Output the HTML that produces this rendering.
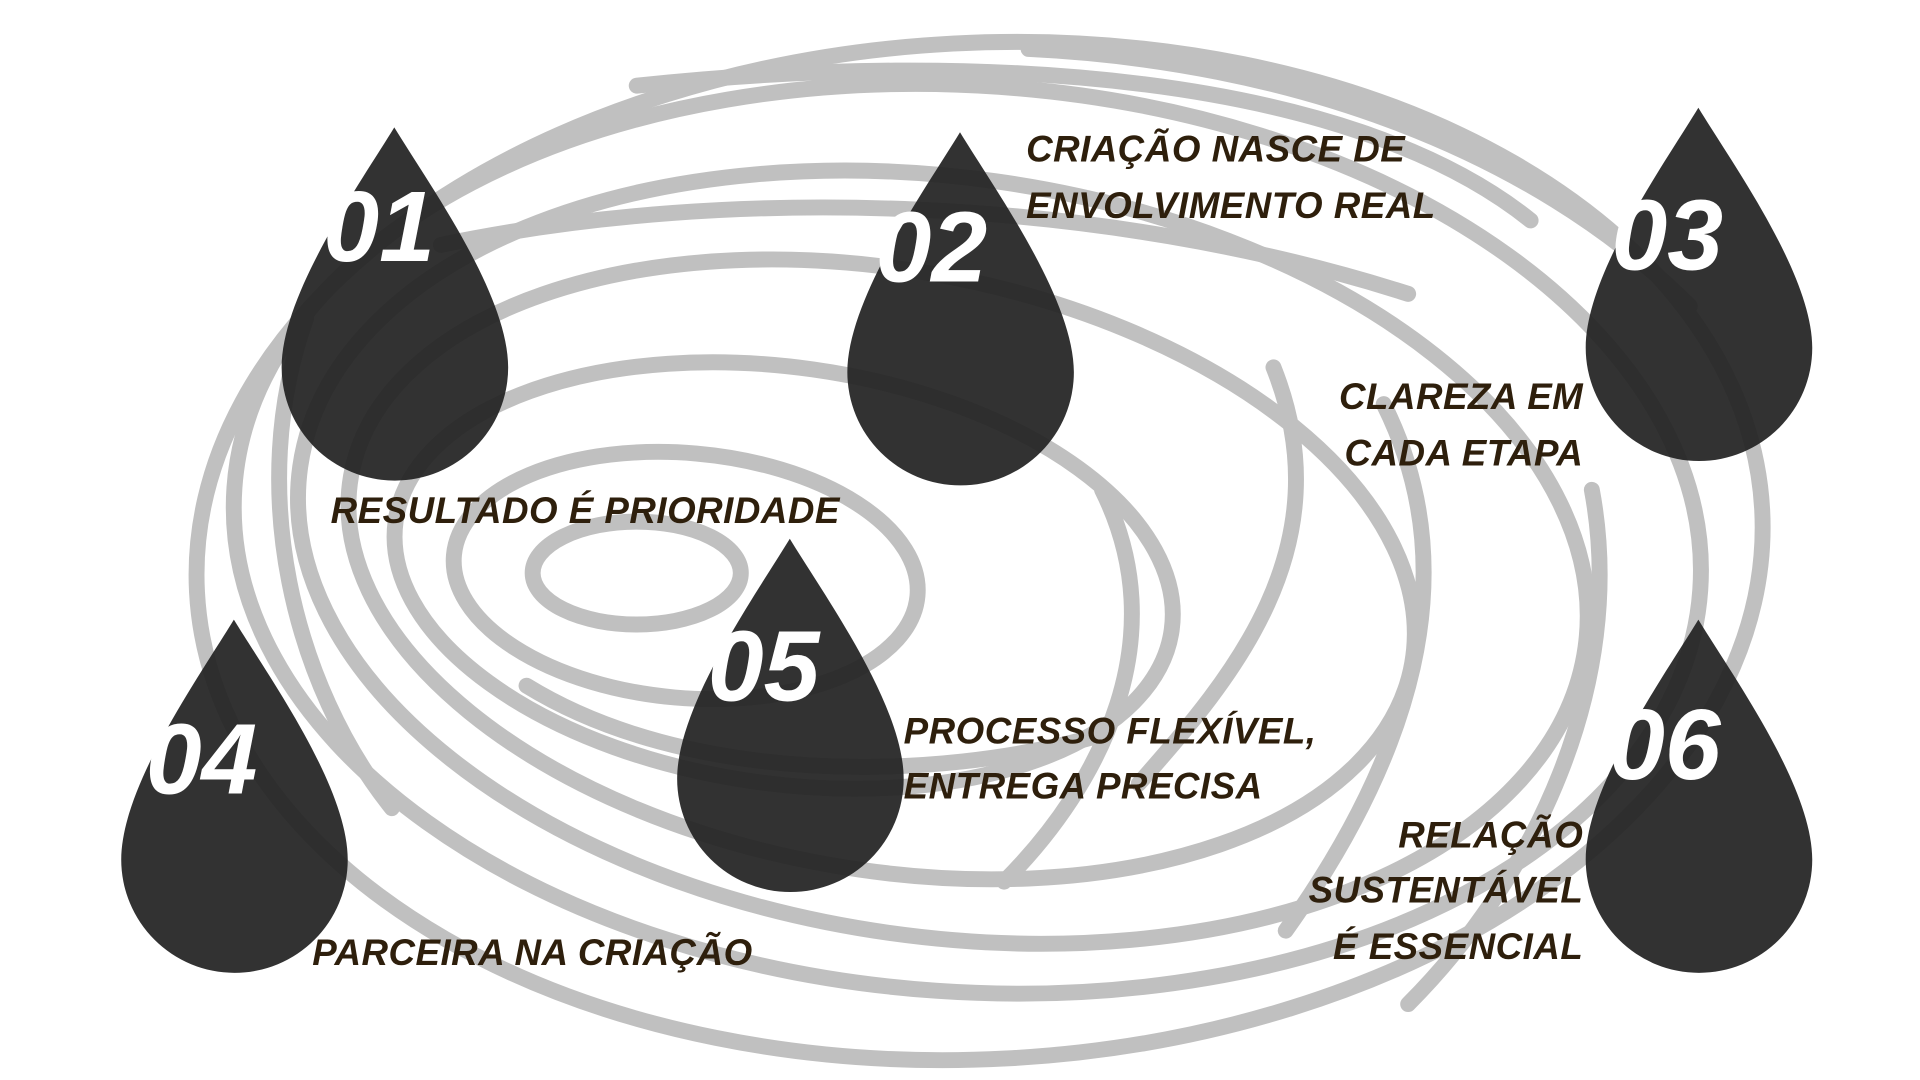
<!DOCTYPE html>
<html><head><meta charset="utf-8"><style>
html,body{margin:0;padding:0;background:#fff;width:1920px;height:1080px;overflow:hidden}
svg{display:block}
.n{font-family:"Liberation Sans",sans-serif;font-weight:bold;font-style:italic;font-size:82px;fill:#fff}
.t{font-family:"Liberation Sans",sans-serif;font-weight:bold;font-style:italic;font-size:30px;letter-spacing:0.4px;fill:#2e1f0c}
</style></head><body>
<svg width="1920" height="1080" viewBox="0 0 1568 882" xmlns="http://www.w3.org/2000/svg">
<g fill="none" stroke="#c0c0c0" stroke-width="13" stroke-linecap="round">
<ellipse cx="800" cy="450" rx="640" ry="415" transform="rotate(-3 800 450)"/>
<ellipse cx="790" cy="440" rx="600" ry="370" transform="rotate(4 790 440)"/>
<ellipse cx="770" cy="455" rx="530" ry="310" transform="rotate(8 770 455)"/>
<ellipse cx="720" cy="465" rx="440" ry="245" transform="rotate(10 720 465)"/>
<ellipse cx="640" cy="470" rx="320" ry="170" transform="rotate(8 640 470)"/>
<ellipse cx="560" cy="470" rx="190" ry="100" transform="rotate(5 560 470)"/>
<ellipse cx="520" cy="468" rx="85" ry="42"/>
<path d="M520 70 C 800 40 1100 60 1250 180"/>
<path d="M840 40 C 1050 50 1250 120 1380 250"/>
<path d="M360 200 C 600 150 900 160 1150 240"/>
<path d="M1040 300 C 1100 450 1000 560 930 640"/>
<path d="M1130 330 C 1200 470 1150 620 1050 760"/>
<path d="M900 400 C 960 520 900 640 820 720"/>
<path d="M1300 400 C 1330 560 1250 720 1150 820"/>
<path d="M250 260 C 200 400 240 560 320 660"/>
<path d="M430 560 C 560 640 760 640 900 600"/>
</g>
<g fill="#222" fill-opacity="0.93">
<path d="M322 104 C 350 150 415 240 415 300 A 92.5 92.5 0 0 1 230 300 C 230 240 294 150 322 104 Z"/>
<path d="M784 108 C 812 154 877 244 877 304 A 92.5 92.5 0 0 1 692 304 C 692 244 756 154 784 108 Z"/>
<path d="M1387 88 C 1415 134 1480 224 1480 284 A 92.5 92.5 0 0 1 1295 284 C 1295 224 1359 134 1387 88 Z"/>
<path d="M191 506 C 219 552 284 642 284 702 A 92.5 92.5 0 0 1 99 702 C 99 642 163 552 191 506 Z"/>
<path d="M645 440 C 673 486 738 576 738 636 A 92.5 92.5 0 0 1 553 636 C 553 576 617 486 645 440 Z"/>
<path d="M1387 506 C 1415 552 1480 642 1480 702 A 92.5 92.5 0 0 1 1295 702 C 1295 642 1359 552 1387 506 Z"/>
</g>
<text class="n" x="264" y="213">01</text>
<text class="n" x="715" y="230">02</text>
<text class="n" x="1316" y="220">03</text>
<text class="n" x="119" y="648">04</text>
<text class="n" x="578" y="572">05</text>
<text class="n" x="1314" y="636">06</text>
<text class="t" x="838" y="132">CRIAÇÃO NASCE DE</text>
<text class="t" x="838" y="178">ENVOLVIMENTO REAL</text>
<text class="t" x="1293" y="334" text-anchor="end">CLAREZA EM</text>
<text class="t" x="1293" y="380" text-anchor="end">CADA ETAPA</text>
<text class="t" x="270" y="427">RESULTADO É PRIORIDADE</text>
<text class="t" x="738" y="607">PROCESSO FLEXÍVEL,</text>
<text class="t" x="738" y="652">ENTREGA PRECISA</text>
<text class="t" x="255" y="788">PARCEIRA NA CRIAÇÃO</text>
<text class="t" x="1293" y="692" text-anchor="end">RELAÇÃO</text>
<text class="t" x="1293" y="737" text-anchor="end">SUSTENTÁVEL</text>
<text class="t" x="1293" y="783" text-anchor="end">É ESSENCIAL</text>
</svg>
</body></html>
